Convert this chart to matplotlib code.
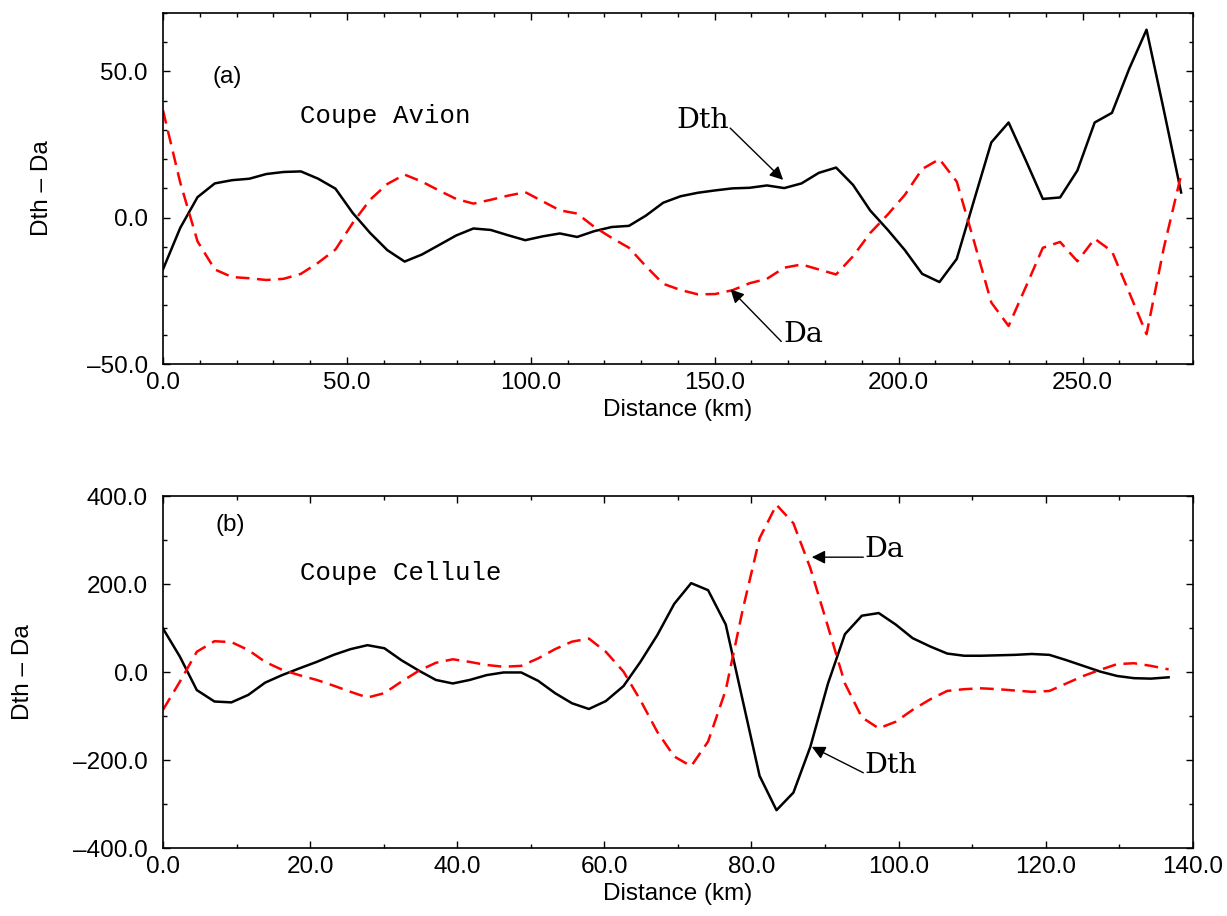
import numpy as np
import matplotlib
matplotlib.use('Agg')
import matplotlib.pyplot as plt
from matplotlib.ticker import MultipleLocator, FuncFormatter

# (a) coupe avion
dist_a = [0.0, 4.7, 9.4, 14.1, 18.8, 23.5, 28.1, 32.8, 37.5, 42.2,
          46.9, 51.6, 56.3, 61.0, 65.7, 70.4, 75.0, 79.7, 84.4, 89.1,
          93.8, 98.5, 103.2, 107.9, 112.6, 117.3, 122.0, 126.7, 131.3, 136.0,
          140.7, 145.4, 150.1, 154.8, 159.5, 164.2, 168.9, 173.6, 178.3, 183.0,
          187.6, 192.3, 197.0, 201.7, 206.4, 211.1, 215.8, 220.5, 225.2, 229.9,
          234.6, 239.2, 243.9, 248.6, 253.3, 258.0, 262.7, 267.4, 272.1, 276.8]
dth_a = [-17.7, -3.5, 7.0, 11.7, 12.8, 13.3, 14.9, 15.6, 15.8, 13.3,
         9.9, 1.6, -5.2, -11.1, -15.0, -12.6, -9.4, -6.1, -3.7, -4.2,
         -6.0, -7.7, -6.4, -5.4, -6.6, -4.6, -3.2, -2.8, 0.7, 5.1,
         7.3, 8.5, 9.3, 10.0, 10.2, 11.0, 10.1, 11.7, 15.3, 17.1,
         11.2, 2.4, -4.1, -11.1, -19.2, -22.0, -14.1, 5.9, 25.7, 32.5,
         19.5, 6.4, 6.9, 16.1, 32.5, 35.8, 50.9, 64.2, 36.7, 8.6]
da_a = [36.7, 12.0, -8.1, -17.7, -20.3, -20.7, -21.3, -20.9, -19.2, -15.4,
        -10.9, -1.8, 6.1, 11.5, 14.7, 12.3, 9.3, 6.4, 4.8, 6.1,
        7.5, 8.7, 5.6, 2.5, 1.4, -3.2, -6.9, -10.3, -16.6, -22.6,
        -24.7, -26.2, -26.1, -24.8, -22.4, -20.9, -17.1, -16.0, -17.7, -19.4,
        -13.2, -5.2, 1.0, 7.8, 16.6, 20.0, 12.3, -8.1, -29.0, -37.0,
        -23.6, -10.3, -8.3, -14.9, -7.2, -11.5, -25.6, -39.8, -10.3, 14.6]

# (b) coupe cellule
dist_b = [0.0, 2.3, 4.6, 7.0, 9.3, 11.6, 13.9, 16.2, 18.5, 20.9,
          23.2, 25.5, 27.8, 30.1, 32.4, 34.8, 37.1, 39.4, 41.7, 44.0,
          46.3, 48.7, 51.0, 53.3, 55.6, 57.9, 60.2, 62.6, 64.9, 67.2,
          69.5, 71.8, 74.1, 76.5, 78.8, 81.1, 83.4, 85.7, 88.0, 90.4,
          92.7, 95.0, 97.3, 99.6, 101.9, 104.3, 106.6, 108.9, 111.2, 113.5,
          115.8, 118.1, 120.5, 122.8, 125.1, 127.4, 129.7, 132.0, 134.3, 136.7]
dth_b = [99, 35, -41, -67, -69, -52, -24, -7, 8, 23,
         39, 52, 61, 54, 27, 3, -18, -26, -18, -7,
         -1, -1, -20, -48, -71, -84, -66, -32, 23, 84,
         155, 202, 186, 108, -64, -236, -314, -274, -170, -26,
         86, 128, 134, 108, 77, 58, 42, 37, 37, 38,
         39, 41, 39, 27, 14, 1, -9, -14, -15, -12]
da_b = [-86, -22, 46, 70, 68, 50, 23, 5, -7, -18,
        -31, -45, -58, -48, -22, 3, 21, 29, 23, 16,
        12, 14, 31, 52, 69, 76, 46, 1, -64, -136,
        -192, -214, -158, -41, 141, 304, 380, 338, 236, 103,
        -26, -103, -128, -113, -86, -62, -43, -39, -37, -39,
        -42, -45, -43, -26, -9, 5, 18, 20, 14, 6]

# fonts

tick_font = 'Liberation Sans'
font_lab = {'family': 'Liberation Sans', 'size': 17.5}
font_note = {'family': 'DejaVu Serif', 'size': 20.5}
font_title = {'family': 'Liberation Mono', 'size': 18.5}


def fmt(v, pos):
    # en dash for negative values, one decimal
    return ('%.1f' % v).replace('-', '\u2013')


fig = plt.figure(figsize=(12.27, 9.16), dpi=100)
ax1 = fig.add_axes([0.1328, 0.6026, 0.8394, 0.3835])
ax2 = fig.add_axes([0.1328, 0.0742, 0.8394, 0.3843])


def style_axes(ax, xmaj, xmin, ymaj, ymin, ylab_x):
    ax.xaxis.set_major_locator(MultipleLocator(xmaj))
    ax.xaxis.set_minor_locator(MultipleLocator(xmin))
    ax.yaxis.set_major_locator(MultipleLocator(ymaj))
    ax.yaxis.set_minor_locator(MultipleLocator(ymin))
    ax.xaxis.set_major_formatter(FuncFormatter(fmt))
    ax.yaxis.set_major_formatter(FuncFormatter(fmt))
    ax.tick_params(which='both', direction='in', top=True, right=True, width=1)
    ax.tick_params(which='major', length=5)
    ax.tick_params(which='minor', length=3)
    ax.tick_params(axis='x', which='major', pad=6)
    ax.tick_params(axis='y', which='major', pad=11)
    for lab in ax.get_xticklabels() + ax.get_yticklabels():
        lab.set_family(tick_font)
        lab.set_fontsize(17.5)
    for sp in ax.spines.values():
        sp.set_linewidth(1.2)
    ax.set_xlabel('Distance (km)', font_lab, labelpad=3)
    ax.set_ylabel('Dth \u2013 Da', font_lab)
    ax.yaxis.set_label_coords(ylab_x, 0.5)


# panel (a)
ax1.plot(dist_a, dth_a, color='black', lw=1.8)
ax1.plot(dist_a, da_a, color='red', lw=1.8, dashes=(5.5, 3))
ax1.set_xlim(0, 280)
ax1.set_ylim(-50, 70)
style_axes(ax1, 50, 10, 50, 10, -0.107)

ax1.text(17.4, 48.1, '(a)', fontdict=font_lab, ha='center', va='center')
ax1.text(37.2, 32.3, 'Coupe Avion', fontdict=font_title, ha='left', va='baseline')
ax1.text(153.9, 30.6, 'Dth', fontdict=font_note, ha='right', va='baseline')
ax1.annotate('', xy=(168.6, 12.9), xytext=(154.2, 30.6),
             arrowprops=dict(arrowstyle='-|>', color='black', lw=1,
                             mutation_scale=20, shrinkA=0, shrinkB=0))
ax1.text(168.6, -42.5, 'Da', fontdict=font_note, ha='left', va='baseline')
ax1.annotate('', xy=(154.3, -24.5), xytext=(168.1, -42.3),
             arrowprops=dict(arrowstyle='-|>', color='black', lw=1,
                             mutation_scale=20, shrinkA=0, shrinkB=0))

# panel (b)
ax2.plot(dist_b, dth_b, color='black', lw=1.8)
ax2.plot(dist_b, da_b, color='red', lw=1.8, dashes=(5.5, 3))
ax2.set_xlim(0, 140)
ax2.set_ylim(-400, 400)
style_axes(ax2, 20, 10, 200, 100, -0.125)

ax2.text(9.2, 334, '(b)', fontdict=font_lab, ha='center', va='center')
ax2.text(18.6, 209, 'Coupe Cellule', fontdict=font_title, ha='left', va='baseline')
ax2.text(95.3, 261, 'Da', fontdict=font_note, ha='left', va='baseline')
ax2.annotate('', xy=(88.2, 261), xytext=(95.2, 261),
             arrowprops=dict(arrowstyle='-|>', color='black', lw=1,
                             mutation_scale=20, shrinkA=0, shrinkB=0))
ax2.text(95.3, -229, 'Dth', fontdict=font_note, ha='left', va='baseline')
ax2.annotate('', xy=(88.2, -170), xytext=(95.2, -229),
             arrowprops=dict(arrowstyle='-|>', color='black', lw=1,
                             mutation_scale=20, shrinkA=0, shrinkB=0))

fig.savefig('out.png', dpi=100)
